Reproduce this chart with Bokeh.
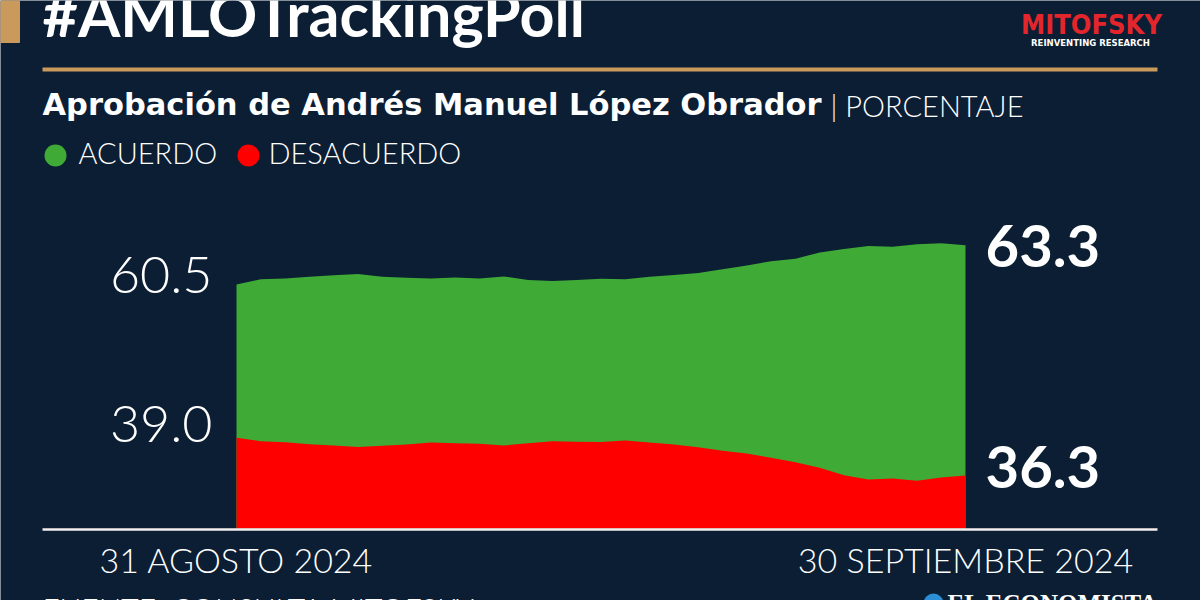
import pandas as pd
from bokeh.plotting import figure
from bokeh.models import Range1d, ColumnDataSource, CDSView, IndexFilter
from bokeh.core.properties import value
from bokeh.embed import file_html
from bokeh.resources import INLINE

# ---------------- data ----------------
dates = pd.date_range("2024-08-31", "2024-09-30", freq="D")
acuerdo = [60.5, 60.86, 60.93, 61.04, 61.15, 61.25, 61.04, 60.97, 60.93, 61.0,
           60.93, 61.07, 60.82, 60.74, 60.82, 60.91, 60.86, 61.04, 61.18, 61.32,
           61.58, 61.86, 62.15, 62.33, 62.79, 63.04, 63.25, 63.2, 63.37, 63.44, 63.3]
desacuerdo = [39.0, 38.76, 38.68, 38.54, 38.45, 38.35, 38.43, 38.52, 38.66, 38.61,
              38.57, 38.45, 38.61, 38.76, 38.71, 38.7, 38.81, 38.66, 38.52, 38.33,
              38.07, 37.87, 37.57, 37.25, 36.85, 36.32, 36.01, 36.08, 35.92, 36.15, 36.3]
series_names = ["ACUERDO", "DESACUERDO"]
date_labels = ["31 AGOSTO 2024", "30 SEPTIEMBRE 2024"]
title = "#AMLOTrackingPoll"
subtitle = "Aprobación de Andrés Manuel López Obrador"
unit_text = "| PORCENTAJE"
source_text = "FUENTE: CONSULTA MITOFSKY"

# ---------------- styles / layout ----------------
BG = "#0b1e33"
GREEN = "#3faa35"
RED = "#ff0000"
GOLD = "#c99a5c"
W, H = 1200, 600
X0_PX, X1_PX = 236, 965
BASE_PX = 528
PPU = 13.95          # pixels per percentage point
G_BASE = 43.0        # acuerdo value at the baseline
R_BASE = 32.5        # desacuerdo value at the baseline
BL_FIX = 0.41        # baseline correction (fraction of font size)

xs = [(d - dates[0]).days for d in dates]
per_px = (xs[-1] - xs[0]) / (X1_PX - X0_PX)
x_start = xs[0] - X0_PX * per_px
x_end = x_start + W * per_px
g_start = G_BASE - (H - BASE_PX) / PPU
g_end = g_start + H / PPU
r_start = R_BASE - (H - BASE_PX) / PPU
r_end = r_start + H / PPU


def px_x(px):
    return x_start + px * per_px


def px_y(py):
    return g_start + (H - py) / PPU


def ty(baseline_px, size):
    return px_y(baseline_px - BL_FIX * size)


p = figure(width=W, height=H, x_range=Range1d(x_start, x_end), y_range=Range1d(g_start, g_end),
           x_axis_location=None, y_axis_location=None, min_border=0,
           toolbar_location=None, output_backend="svg",
           background_fill_color=BG, border_fill_color=BG, outline_line_color=None)
p.extra_y_ranges = {"red": Range1d(r_start, r_end)}
p.grid.visible = False

LIGHT = value("Lato Light")
BOLD = value("Lato")

# areas
src = ColumnDataSource(dict(x=xs, a=acuerdo, d=desacuerdo))
p.varea(x="x", y1=G_BASE, y2="a", source=src, fill_color=GREEN)
p.varea(x="x", y1=R_BASE, y2="d", source=src, fill_color=RED, y_range_name="red")

# decorations
p.quad(left=px_x(-5), right=px_x(19), top=px_y(-5), bottom=px_y(42), color=GOLD)
p.segment(x0=px_x(42), x1=px_x(1157), y0=px_y(69), y1=px_y(69), line_width=4, color=GOLD)
p.segment(x0=px_x(42), x1=px_x(1157), y0=px_y(529), y1=px_y(529), line_width=2.5, color="#f4eeee")

# title texts
p.text(x=[px_x(42)], y=[ty(38, 61)], text=[title], text_font=BOLD, text_font_style="bold",
       text_font_size="61px", text_color="white", text_baseline="alphabetic")
p.text(x=[px_x(42)], y=[ty(117, 30.5)], text=[subtitle], text_font=value("DejaVu Sans"),
       text_font_style="bold", text_font_size="30.5px", text_color="white", text_baseline="alphabetic")
p.text(x=[px_x(830)], y=[ty(117, 29)], text=[unit_text], text_font=LIGHT,
       text_font_size="29px", text_color="white", text_baseline="alphabetic")

# legend
p.scatter(x=[px_x(55), px_x(248)], y=[px_y(155), px_y(155)], size=22,
          fill_color=[GREEN, RED], line_color=None)
p.text(x=[px_x(78), px_x(268)], y=[ty(164, 29), ty(164, 29)], text=series_names, text_font=LIGHT,
       text_font_size="29px", text_color="white", text_baseline="alphabetic")

# start / end value labels
g_lab = ColumnDataSource(dict(x=[xs[0], xs[-1]], y=[acuerdo[0], acuerdo[-1]],
                              t=[f"{acuerdo[0]:.1f}", f"{acuerdo[-1]:.1f}"]))
r_lab = ColumnDataSource(dict(x=[xs[0], xs[-1]], y=[desacuerdo[0], desacuerdo[-1]],
                              t=[f"{desacuerdo[0]:.1f}", f"{desacuerdo[-1]:.1f}"]))
first = CDSView(filter=IndexFilter([0]))
last = CDSView(filter=IndexFilter([1]))
S_START, S_END = 52, 58
p.text("x", "y", "t", source=g_lab, view=first, x_offset=-24, y_offset=12 - BL_FIX * S_START,
       text_align="right", text_font=LIGHT, text_font_size=f"{S_START}px", text_color="white",
       text_baseline="alphabetic")
p.text("x", "y", "t", source=r_lab, view=first, x_offset=-24, y_offset=7 - BL_FIX * S_START,
       text_align="right", text_font=LIGHT, text_font_size=f"{S_START}px", text_color="white",
       text_baseline="alphabetic", y_range_name="red")
p.text("x", "y", "t", source=g_lab, view=last, x_offset=20, y_offset=24 - BL_FIX * S_END,
       text_align="left", text_font=BOLD, text_font_style="bold", text_font_size=f"{S_END}px",
       text_color="white", text_baseline="alphabetic")
p.text("x", "y", "t", source=r_lab, view=last, x_offset=20, y_offset=15 - BL_FIX * S_END,
       text_align="left", text_font=BOLD, text_font_style="bold", text_font_size=f"{S_END}px",
       text_color="white", text_baseline="alphabetic", y_range_name="red")

# date labels
p.text(x=[xs[0], xs[-1]], y=[ty(573, 34), ty(573, 34)], text=date_labels, text_align="center",
       text_font=LIGHT, text_font_size="34px", text_color="white", text_baseline="alphabetic")

# logo
p.text(x=[px_x(1091)], y=[ty(35, 27)], text=["MITOFSKY"], text_align="center",
       text_font=value("DejaVu Sans Condensed"), text_font_style="bold",
       text_font_size="27px", text_color="#e3262c", text_baseline="alphabetic")
p.text(x=[px_x(1090)], y=[ty(46, 8.5)], text=["REINVENTING RESEARCH"], text_align="center",
       text_font=value("DejaVu Sans"), text_font_style="bold",
       text_font_size="8.5px", text_color="white", text_baseline="alphabetic")

# footer
p.text(x=[px_x(42)], y=[ty(620, 30)], text=[source_text], text_font=LIGHT,
       text_font_size="30px", text_color="white", text_baseline="alphabetic")
p.scatter(x=[px_x(933)], y=[px_y(603)], size=20, fill_color="#2b8fd8", line_color=None)
p.text(x=[px_x(947)], y=[ty(613, 25)], text=["EL ECONOMISTA"], text_font=value("Liberation Serif"),
       text_font_style="bold", text_font_size="25px", text_color="white", text_baseline="alphabetic")

open("out.html", "w").write(file_html(p, INLINE))
